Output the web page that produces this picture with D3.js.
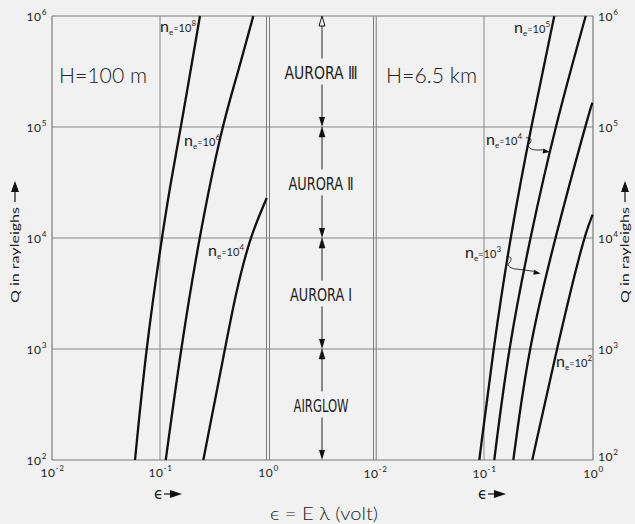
<!DOCTYPE html>
<html>
<head>
<meta charset="utf-8">
<script src="https://cdn.jsdelivr.net/npm/d3@7"></script>
<style>
  body { margin: 0; background: #f1f1f1; }
  svg { display: block; }
  text, tspan { fill: #222; }
</style>
</head>
<body>
<div id="vis-holder"></div>
<script>
// ---- data ----
// Q axis (rayleighs) and epsilon axis (volt) ticks
const qTicks = [1e2, 1e3, 1e4, 1e5, 1e6];
const epsTicks = [1e-2, 1e-1, 1e0];

// H = 100 m panel, curves for n_e = 10^8, 10^6, 10^4  ([epsilon, Q])
const leftNe = ["8", "6", "4"];
const left_ne8 = [[0.0587, 1e2], [0.0741, 1e3], [0.1038, 1e4], [0.1256, 31623], [0.1563, 1e5], [0.2344, 1e6]];
const left_ne6 = [[0.113, 1e2], [0.156, 1e3], [0.2296, 1e4], [0.3724, 1e5], [0.5129, 281838], [0.731, 1e6]];
const left_ne4 = [[0.2518, 1e2], [0.3999, 1e3], [0.4943, 2951], [0.675, 1e4], [0.973, 22909]];

// H = 6.5 km panel, curves for n_e = 10^5, 10^4, 10^3, 10^2
const rightNe = ["5", "4", "3", "2"];
const right_ne5 = [[0.0906, 1e2], [0.1216, 1e3], [0.1734, 1e4], [0.2698, 1e5], [0.4416, 1e6]];
const right_ne4 = [[0.1242, 1e2], [0.1671, 1e3], [0.2642, 1e4], [0.4477, 1e5], [0.857, 1e6]];
const right_ne3 = [[0.1858, 1e2], [0.2547, 1e3], [0.4477, 1e4], [0.8453, 1e5], [0.986, 165959]];
const right_ne2 = [[0.2773, 1e2], [0.4645, 1e3], [0.8147, 1e4], [0.993, 16218]];

// regions in the middle column (Q bounds)
const regionNames = ["AIRGLOW", "AURORA I", "AURORA \u2161", "AURORA \u2162"];
const regionBounds = [[1e2, 1e3], [1e3, 1e4], [1e4, 1e5], [1e5, 1e6]];

// ---- layout ----
const w = 635, h = 524;
const svg = d3.select("#vis-holder").append("svg")
  .attr("width", w).attr("height", h)
  .style("background-color", "#f1f1f1");

const y = d3.scaleLog().domain([1e2, 1e6]).range([460, 16]);
const xL = d3.scaleLog().domain([1e-2, 1]).range([52, 268]);
const xR = d3.scaleLog().domain([1e-2, 1]).range([375, 593]);
const midX = 322;

const gridColor = "#7a7a7a";
const font = "Lato, 'Open Sans', sans-serif";

// horizontal grid / frame across whole figure
svg.append("g").selectAll("line")
  .data(qTicks)
  .enter().append("line")
  .attr("x1", xL.range()[0]).attr("x2", xR.range()[1])
  .attr("y1", d => y(d)).attr("y2", d => y(d))
  .attr("stroke", gridColor)
  .attr("stroke-width", d => (d === 1e2 || d === 1e6) ? 1.2 : 0.9);

// vertical lines
const vlines = [
  {x: xL(1e-2), w: 1.2}, {x: xL(1e-1), w: 0.9},
  {x: xL(1) - 1.5, w: 1}, {x: xL(1) + 1.5, w: 1},
  {x: xR(1e-2) - 1.5, w: 1}, {x: xR(1e-2) + 1.2, w: 1},
  {x: xR(1e-1), w: 0.9}, {x: xR(1), w: 1.2}
];
svg.append("g").selectAll("line")
  .data(vlines)
  .enter().append("line")
  .attr("x1", d => d.x).attr("x2", d => d.x)
  .attr("y1", y(1e6)).attr("y2", y(1e2))
  .attr("stroke", gridColor)
  .attr("stroke-width", d => d.w);

// superscript label helper
function powText(sel, base, sup, size) {
  sel.append("tspan").text(base);
  sel.append("tspan").attr("dy", -size * 0.5).attr("font-size", size * 0.68).text(sup);
}
function expOf(d) { return String(Math.round(Math.log10(d))); }

// axes: d3 axes with 10^n labels
function styleAxis(g) {
  g.select(".domain").remove();
  g.selectAll(".tick line").remove();
  g.selectAll(".tick text").each(function(d) {
    const t = d3.select(this).text(null)
      .attr("font-family", font).attr("font-size", 12).attr("fill", "#222")
      .attr("letter-spacing", 0.6);
    powText(t, "10", expOf(d), 12);
  });
}
svg.append("g").attr("transform", "translate(" + xL.range()[0] + ",0)")
  .call(d3.axisLeft(y).tickValues(qTicks).tickSize(0).tickPadding(5))
  .call(styleAxis)
  .selectAll(".tick text").attr("dy", "0.4em");
const rAxis = svg.append("g").attr("transform", "translate(" + xR.range()[1] + ",0)")
  .call(d3.axisRight(y).tickValues(qTicks).tickSize(0).tickPadding(5))
  .call(styleAxis);
rAxis.selectAll(".tick text").attr("dy", d => d === 1e2 ? "0.05em" : "0.4em");

svg.append("g").attr("transform", "translate(0," + y(1e2) + ")")
  .call(d3.axisBottom(xL).tickValues(epsTicks).tickSize(0).tickPadding(8))
  .call(styleAxis);
svg.append("g").attr("transform", "translate(0," + y(1e2) + ")")
  .call(d3.axisBottom(xR).tickValues(epsTicks).tickSize(0).tickPadding(9))
  .call(styleAxis);

// curves
const lineL = d3.line().x(d => xL(d[0])).y(d => y(d[1])).curve(d3.curveBasis);
const lineR = d3.line().x(d => xR(d[0])).y(d => y(d[1])).curve(d3.curveBasis);

svg.append("g").selectAll("path")
  .data([left_ne8, left_ne6, left_ne4])
  .enter().append("path")
  .attr("d", lineL)
  .attr("fill", "none").attr("stroke", "#111").attr("stroke-width", 2.3);

svg.append("g").selectAll("path")
  .data([right_ne5, right_ne4, right_ne3, right_ne2])
  .enter().append("path")
  .attr("d", lineR)
  .attr("fill", "none").attr("stroke", "#111").attr("stroke-width", 2.3);

// n_e labels
function neLabel(x, yy, exp) {
  const t = svg.append("text").attr("x", x).attr("y", yy)
    .attr("font-family", font).attr("font-size", 16).attr("fill", "#222");
  t.append("tspan").text("n");
  t.append("tspan").attr("font-size", 8).attr("dy", 3).text("e");
  t.append("tspan").attr("font-size", 9).attr("dy", -3).text("=");
  t.append("tspan").attr("font-size", 11).attr("letter-spacing", 0.2).text("10");
  t.append("tspan").attr("font-size", 8).attr("dy", -6).text(exp);
}
neLabel(160, 32, leftNe[0]);
neLabel(184, 146, leftNe[1]);
neLabel(208, 256, leftNe[2]);
neLabel(514, 33, rightNe[0]);
neLabel(486, 145, rightNe[1]);
neLabel(465, 258, rightNe[2]);
neLabel(556, 367, rightNe[3]);

// squiggle pointers to n_e=10^4 and 10^3 curves (right panel)
function squiggle(x0, y0, tip) {
  const p = d3.path();
  p.moveTo(x0, y0);
  p.bezierCurveTo(x0 + 6, y0 - 2, x0 + 6, y0 + 4, x0 + 3, y0 + 6);
  p.bezierCurveTo(x0, y0 + 9, x0 + 6, y0 + 12, x0 + 10, y0 + 12);
  p.lineTo(tip[0] - 5, tip[1] - 2);
  svg.append("path").attr("d", p.toString())
    .attr("fill", "none").attr("stroke", "#222").attr("stroke-width", 0.9);
  const ang = Math.atan2(tip[1] - (y0 + 12), tip[0] - (x0 + 10));
  svg.append("path")
    .attr("d", "M0,0 L-7,-2.6 L-7,2.6 Z")
    .attr("transform", "translate(" + tip[0] + "," + tip[1] + ") rotate(" + ang * 180 / Math.PI + ")")
    .attr("fill", "#111");
}
squiggle(526, 138, [xR(0.42) - 2, y(59600)]);
squiggle(506, 257, [xR(0.345) - 2, y(4790)]);

// panel titles
svg.append("text").attr("x", 59).attr("y", 83)
  .attr("font-family", font).attr("font-weight", 300).attr("font-size", 22)
  .attr("textLength", 88).attr("lengthAdjust", "spacingAndGlyphs")
  .text("H=100 m");
svg.append("text").attr("x", 386).attr("y", 83)
  .attr("font-family", font).attr("font-weight", 300).attr("font-size", 22)
  .attr("textLength", 91).attr("lengthAdjust", "spacingAndGlyphs")
  .text("H=6.5 km");

// middle column: regions with arrows
const regionW = [55, 62, 65, 73];
const mid = svg.append("g");
regionBounds.forEach(function(b, i) {
  const yTop = y(b[1]), yBot = y(b[0]);
  const yc = (yTop + yBot) / 2;
  mid.append("text")
    .attr("x", midX - 1).attr("y", yc + 7)
    .attr("text-anchor", "middle")
    .attr("font-family", "'Liberation Sans Narrow', 'DejaVu Sans Condensed', sans-serif")
    .attr("font-size", 18)
    .attr("textLength", regionW[i]).attr("lengthAdjust", "spacingAndGlyphs")
    .text(regionNames[i]);
  // shafts
  mid.append("line").attr("x1", midX).attr("x2", midX)
    .attr("y1", yTop + 8).attr("y2", yc - 13)
    .attr("stroke", "#222").attr("stroke-width", 1);
  mid.append("line").attr("x1", midX).attr("x2", midX)
    .attr("y1", yc + 13).attr("y2", yBot - 8)
    .attr("stroke", "#222").attr("stroke-width", 1);
  // heads
  const open = (i === regionBounds.length - 1);
  mid.append("path")
    .attr("d", "M" + midX + "," + yTop + " l-3,10 l6,0 Z")
    .attr("fill", open ? "#f1f1f1" : "#111")
    .attr("stroke", "#111").attr("stroke-width", open ? 1 : 0.5);
  mid.append("path")
    .attr("d", "M" + midX + "," + yBot + " l-3,-10 l6,0 Z")
    .attr("fill", "#111");
});

// y axis titles
function yTitle(cx) {
  const g = svg.append("g").attr("transform", "translate(" + cx + ",243) rotate(-90)");
  g.append("text").attr("x", -60).attr("y", 0)
    .attr("font-family", font).attr("font-size", 12)
    .attr("textLength", 96).attr("lengthAdjust", "spacingAndGlyphs")
    .text("Q in rayleighs");
  g.append("line").attr("x1", 41).attr("x2", 53).attr("y1", -4).attr("y2", -4)
    .attr("stroke", "#111").attr("stroke-width", 1.2);
  g.append("path").attr("d", "M62,-4 L51,-8 L51,0 Z").attr("fill", "#111");
}
yTitle(19);
yTitle(629);

// epsilon arrows under each panel
function epsArrow(x0) {
  svg.append("text").attr("x", x0).attr("y", 499)
    .attr("font-family", "'DejaVu Sans', sans-serif").attr("font-size", 15)
    .text("\u03f5");
  svg.append("line").attr("x1", x0 + 10).attr("x2", x0 + 18).attr("y1", 494).attr("y2", 494)
    .attr("stroke", "#111").attr("stroke-width", 1.2);
  svg.append("path").attr("d", "M" + (x0 + 28) + ",494 l-12,-4 l0,8 Z").attr("fill", "#111");
}
epsArrow(xL(0.1) - 6);
epsArrow(xR(0.1) - 6);

// bottom title
svg.append("text").attr("x", 270).attr("y", 520)
  .attr("font-family", font).attr("font-weight", 300).attr("font-size", 17)
  .attr("textLength", 108).attr("lengthAdjust", "spacingAndGlyphs")
  .text("\u03f5 = E \u03bb (volt)");
</script>
</body>
</html>
